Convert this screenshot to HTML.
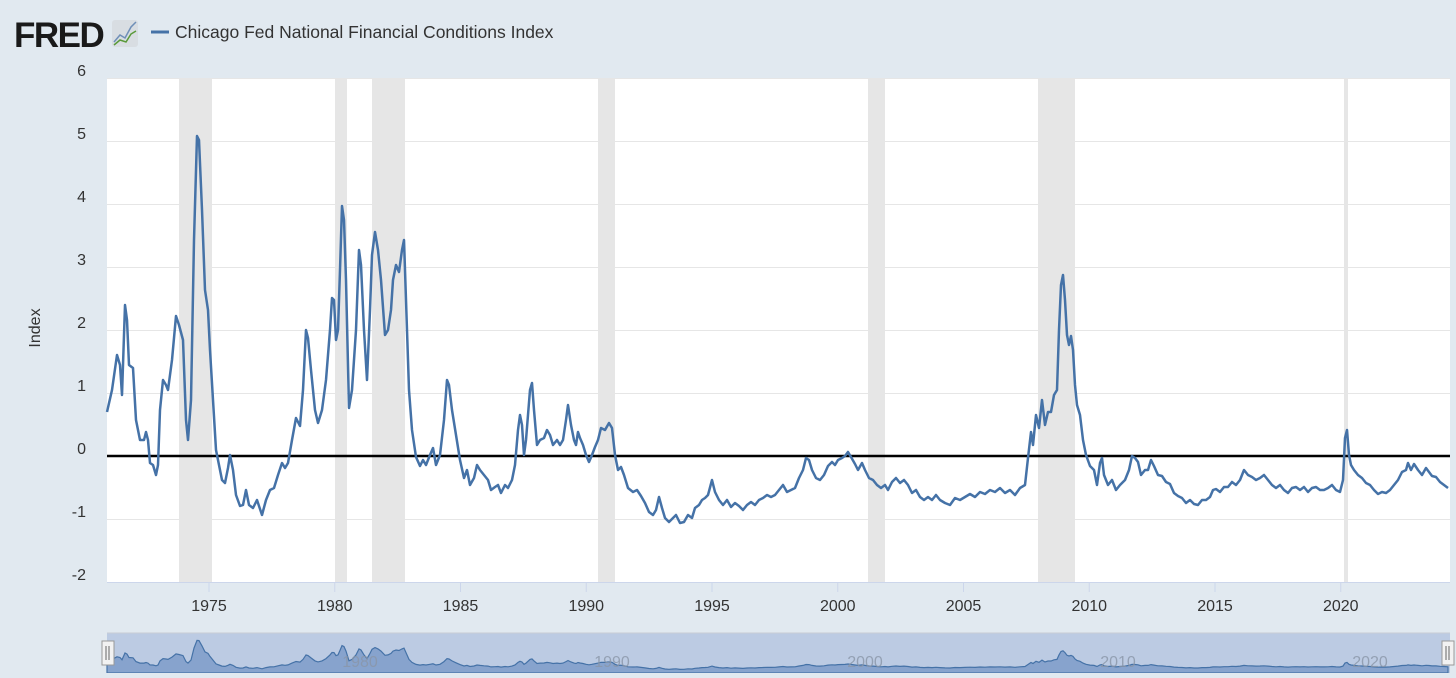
<!DOCTYPE html>
<html><head><meta charset="utf-8"><style>
html,body{margin:0;padding:0;background:#e1e9f0;}
body{width:1456px;height:673px;overflow:hidden;font-family:"Liberation Sans",sans-serif;}
</style></head><body>
<svg id="s" width="1456" height="673" xmlns="http://www.w3.org/2000/svg" font-family="Liberation Sans, sans-serif">
<rect width="1456" height="673" fill="#e1e9f0"/>
<text x="14" y="47" font-size="35" font-weight="bold" fill="#1a1a1a" letter-spacing="-1.5">FRED</text>
<rect x="112" y="20" width="26" height="27" rx="3" fill="#d8dde2"/>
<polyline points="114,42 120,35 125,38 131,27 136,22" fill="none" stroke="#6f8fb8" stroke-width="1.5"/>
<polyline points="114,45 120,40 126,42 131,34 136,31" fill="none" stroke="#5a9a3a" stroke-width="1.5"/>
<line x1="151" y1="32" x2="169" y2="32" stroke="#4572a7" stroke-width="3"/>
<text x="175" y="38" font-size="17.5" fill="#333">Chicago Fed National Financial Conditions Index</text>
<rect x="107" y="78" width="1343" height="504" fill="#fff"/>
<g fill="#e6e6e6">
<rect x="179" y="78" width="33" height="504"/><rect x="335" y="78" width="12" height="504"/>
<rect x="372" y="78" width="33" height="504"/><rect x="598" y="78" width="17" height="504"/>
<rect x="868" y="78" width="17" height="504"/><rect x="1038" y="78" width="37" height="504"/>
<rect x="1344" y="78" width="4" height="504"/></g>
<g stroke="#e6e6e6" stroke-width="1" id="grid"></g>
<g font-size="16" fill="#333" text-anchor="end" id="yl"></g>
<text transform="translate(40,328) rotate(-90)" font-size="16" fill="#333" text-anchor="middle">Index</text>
<line x1="107" y1="582.5" x2="1450" y2="582.5" stroke="#ccd6eb"/>
<g font-size="16" fill="#333" text-anchor="middle" id="xl"></g>
<line x1="107" y1="456" x2="1450" y2="456" stroke="#000" stroke-width="2.5"/>
<path id="ln" fill="none" stroke="#4572a7" stroke-width="2.5" stroke-linejoin="round"/>
<rect x="107" y="633" width="1343" height="40" fill="#bccbe3"/>
<line x1="107" y1="633" x2="1450" y2="633" stroke="#c8ccd4"/>
<path id="nav" fill="#87a3cd" stroke="#4572a7" stroke-width="1.2"/>
<g font-size="16" fill="#8a96a8" text-anchor="middle" opacity="0.8">
<text x="360" y="667">1980</text><text x="612" y="667">1990</text><text x="865" y="667">2000</text><text x="1118" y="667">2010</text><text x="1370" y="667">2020</text></g>
<rect x="102" y="641" width="12" height="24" fill="#f2f2f2" stroke="#999"/>
<line x1="106" y1="646" x2="106" y2="660" stroke="#666"/><line x1="109" y1="646" x2="109" y2="660" stroke="#666"/>
<rect x="1442" y="641" width="12" height="24" fill="#f2f2f2" stroke="#999"/>
<line x1="1446" y1="646" x2="1446" y2="660" stroke="#666"/><line x1="1449" y1="646" x2="1449" y2="660" stroke="#666"/>
</svg>
<script>
var NS="http://www.w3.org/2000/svg";
function el(p,t,a,txt){var e=document.createElementNS(NS,t);for(var k in a)e.setAttribute(k,a[k]);if(txt!=null)e.textContent=txt;document.getElementById(p).appendChild(e);}
for(var v=6;v>=-2;v--){var y=456-63*v;if(v>-2&&v!=0)el("grid","line",{x1:107,x2:1450,y1:y+.5,y2:y+.5});el("yl","text",{x:86,y:y-2},String(v));}
var yrs=[1975,1980,1985,1990,1995,2000,2005,2010,2015,2020];
yrs.forEach(function(yr,i){var x=209+(yr-1975)*25.15;el("xl","line",{x1:x,x2:x,y1:583,y2:592,stroke:"#ccd6eb"});el("xl","text",{x:x,y:611},String(yr));});
var P=[107,412,112,390,117,355,120,365,122,395,125,305,127,320,129,365,133,368,136,420,140,440,144,440,146,432,148,440,150,463,153,465,156,475,158,465,160,410,163,380,166,385,168,390,172,360,176,316,179,325,183,340,186,420,188,440,191,400,194,240,197,136,199,140,202,210,205,290,208,310,210,350,213,400,216,450,219,465,222,480,225,483,228,468,230,455,233,470,236,495,240,506,243,505,246,490,249,505,253,508,257,500,262,515,266,500,270,490,274,488,278,475,282,463,285,468,288,463,292,440,296,418,300,426,303,390,306,330,308,338,311,370,315,410,318,423,322,410,326,380,330,330,332,298,334,300,336,340,338,330,340,270,342,206,344,220,346,280,349,408,352,390,356,330,359,250,361,265,364,330,367,380,370,310,372,255,375,232,378,250,381,280,385,335,388,330,391,310,393,280,396,265,399,272,402,250,404,240,406,300,409,390,412,430,416,457,420,466,423,460,426,465,430,455,433,448,436,465,440,455,444,420,447,380,449,385,452,410,456,435,460,460,464,478,467,470,470,485,474,478,477,465,480,470,484,475,488,480,491,490,495,487,498,485,501,493,505,485,508,488,512,480,515,465,518,430,520,415,522,425,524,455,526,440,530,390,532,383,534,410,537,445,540,440,544,438,547,430,550,435,553,445,557,440,560,445,563,440,566,420,568,405,571,425,574,440,576,445,578,432,580,438,583,445,586,455,589,462,592,455,595,447,598,440,601,428,605,430,609,423,612,428,615,455,618,470,621,467,624,475,628,488,633,492,637,490,641,496,645,503,649,512,653,515,656,510,659,497,662,508,665,518,669,522,673,518,676,515,680,523,684,522,688,515,692,518,695,508,699,505,702,500,705,498,708,495,712,480,715,492,719,500,723,505,727,500,731,507,735,503,739,506,743,510,747,505,751,502,755,505,759,500,763,498,767,495,771,497,775,495,779,490,783,485,787,492,791,490,795,488,799,478,803,470,806,458,809,460,812,470,816,478,820,480,824,475,828,466,832,462,835,465,838,460,842,458,845,456,848,452,851,457,855,464,858,470,862,463,865,470,869,478,873,480,877,485,881,488,885,485,888,490,892,482,896,478,900,483,904,480,908,485,912,493,916,490,920,497,924,500,928,497,932,500,936,495,940,500,945,503,950,505,955,498,960,500,965,497,970,494,975,497,980,492,985,494,990,490,995,492,1000,488,1005,493,1010,490,1015,495,1020,488,1025,485,1028,458,1031,432,1033,445,1036,415,1039,428,1042,400,1045,425,1048,412,1051,412,1054,395,1057,390,1059,330,1061,285,1063,275,1065,300,1067,335,1069,345,1071,336,1073,350,1075,385,1077,405,1080,415,1083,440,1086,455,1090,466,1094,470,1097,485,1100,463,1102,458,1104,475,1108,485,1112,480,1116,490,1120,485,1125,480,1129,470,1132,456,1135,458,1138,462,1141,475,1145,470,1148,470,1151,460,1154,466,1158,475,1162,476,1166,482,1170,484,1174,493,1178,496,1182,498,1186,503,1190,500,1194,504,1198,505,1202,500,1206,500,1210,497,1213,490,1216,489,1220,492,1224,487,1228,487,1232,482,1236,485,1240,480,1244,470,1248,475,1252,477,1256,480,1260,478,1264,475,1268,480,1272,485,1276,488,1280,485,1284,490,1288,493,1292,488,1296,487,1300,490,1304,487,1308,492,1312,488,1316,487,1320,490,1324,490,1328,488,1332,485,1336,490,1340,492,1343,480,1345,438,1347,430,1349,455,1351,465,1354,470,1358,475,1362,478,1366,483,1370,485,1374,490,1378,494,1382,492,1386,493,1390,490,1394,485,1398,480,1402,472,1406,470,1408,463,1411,470,1414,464,1416,467,1418,470,1422,475,1426,468,1429,472,1432,476,1436,477,1440,482,1444,485,1448,488];
var d="",n="M107,673";
for(var i=0;i<P.length;i+=2){d+=(i?"L":"M")+P[i]+","+P[i+1];n+="L"+P[i]+","+(636+(P[i+1]-78)*0.075).toFixed(1);}
n+="L1448,673Z";
document.getElementById("ln").setAttribute("d",d);
document.getElementById("nav").setAttribute("d",n);
</script>
</body></html>
